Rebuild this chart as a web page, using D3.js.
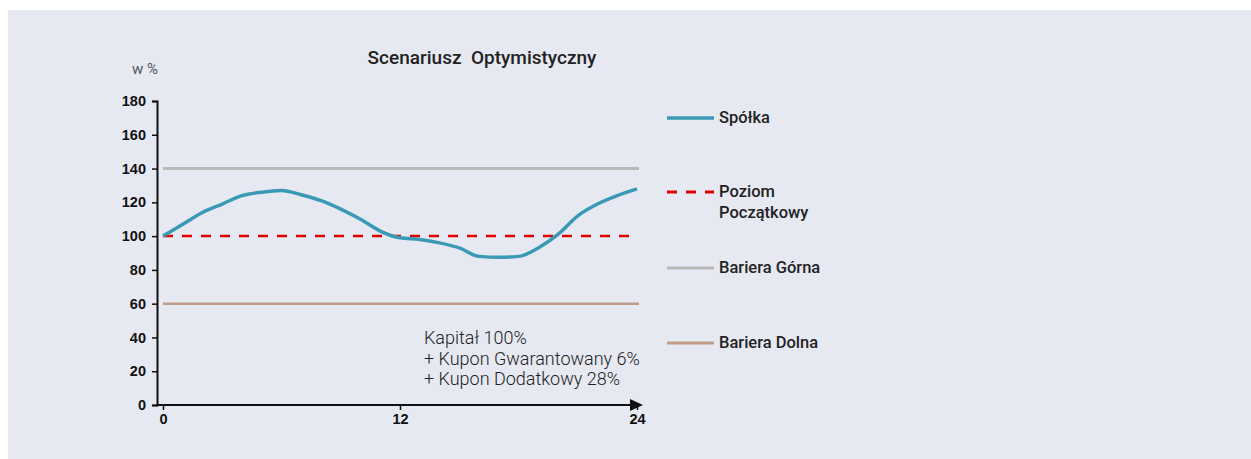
<!DOCTYPE html>
<html lang="pl">
<head>
  <meta charset="UTF-8">
  <title>Scenariusz Optymistyczny</title>
  <style>
    body { margin: 0; padding: 0; background: #fff; font-family: 'Roboto', 'Liberation Sans', sans-serif; }
    svg { display: block; }
    .tick text { font-family: 'Liberation Sans', Arial, sans-serif; font-weight: bold; font-size: 14.5px; fill: #111; }
    .legend text { font-family: 'Roboto', sans-serif; font-weight: 500; font-size: 16.5px; fill: #222; }
  </style>
</head>
<body>
  <svg width="1251" height="459"></svg>

  <script src="https://d3js.org/d3.v7.min.js"></script>
  <script>
    // data
    const months = d3.range(0, 25);
    const spolka = [100, 107, 114, 119, 124, 126, 127, 124.5, 121, 116, 110, 103, 99,
                    98, 96, 93, 88, 87.5, 88, 93, 101, 112, 119, 124, 128];
    const poziomPoczatkowy = 100;
    const barieraGorna = 140;
    const barieraDolna = 60;
    const yTicks = [0, 20, 40, 60, 80, 100, 120, 140, 160, 180];
    const xTicks = [0, 12, 24];
    const legendItems = [
      { label: ["Spółka"], color: "#3a9ab5", dash: null, width: 3.5 },
      { label: ["Poziom", "Początkowy"], color: "#e00000", dash: "10,9", width: 3 },
      { label: ["Bariera Górna"], color: "#b9b9b9", dash: null, width: 3 },
      { label: ["Bariera Dolna"], color: "#c29c86", dash: null, width: 3 }
    ];
    const note = ["Kapitał 100%", "+ Kupon Gwarantowany 6%", "+ Kupon Dodatkowy 28%"];

    const svg = d3.select("svg");

    svg.append("rect")
      .attr("x", 8).attr("y", 10)
      .attr("width", 1243).attr("height", 449)
      .attr("fill", "#e6e9f2");

    const x = d3.scaleLinear().domain([0, 24]).range([163, 637]);
    const y = d3.scaleLinear().domain([0, 180]).range([405, 101]);

    // title
    svg.append("text")
      .attr("x", 482).attr("y", 64)
      .attr("text-anchor", "middle")
      .style("font-family", "Roboto, sans-serif")
      .style("font-size", "19px")
      .style("font-weight", "500")
      .style("fill", "#222")
      .style("white-space", "pre")
      .text("Scenariusz  Optymistyczny");

    svg.append("text")
      .attr("x", 132).attr("y", 74)
      .style("font-family", "Roboto, sans-serif")
      .style("font-size", "15px")
      .style("fill", "#555")
      .text("w %");

    // y axis
    const yAxis = svg.append("g")
      .attr("transform", "translate(157,0)")
      .call(d3.axisLeft(y).tickValues(yTicks).tickSize(5).tickSizeOuter(5).tickPadding(6));
    yAxis.select(".domain").attr("stroke", "#111").attr("stroke-width", 2);
    yAxis.selectAll(".tick line").attr("stroke", "#111").attr("stroke-width", 1.5);

    // x axis
    const xAxis = svg.append("g")
      .attr("transform", "translate(0,405)")
      .call(d3.axisBottom(x).tickValues(xTicks).tickSize(5).tickSizeOuter(0).tickPadding(4));
    xAxis.select(".domain").remove();
    xAxis.selectAll(".tick line").attr("stroke", "#111").attr("stroke-width", 1.5);
    xAxis.append("line")
      .attr("x1", 156).attr("x2", 632)
      .attr("y1", 0).attr("y2", 0)
      .attr("stroke", "#111").attr("stroke-width", 2);
    xAxis.append("path")
      .attr("d", "M630,-6L643,0L630,6Z")
      .attr("fill", "#111");

    // horizontal levels
    const hline = (v, color, w, dash, x2) => svg.append("line")
      .attr("x1", x(0)).attr("x2", x2)
      .attr("y1", y(v)).attr("y2", y(v))
      .attr("stroke", color).attr("stroke-width", w)
      .attr("stroke-dasharray", dash);

    hline(barieraGorna, "#b9b9b9", 3, null, x(24) + 2);
    hline(barieraDolna, "#c29c86", 2.5, null, x(24) + 2);
    hline(poziomPoczatkowy, "#e00000", 2.5, "10,9", x(24) - 8);

    // Spółka line
    const line = d3.line()
      .x((d, i) => x(months[i]))
      .y(d => y(d))
      .curve(d3.curveMonotoneX);

    svg.append("path")
      .datum(spolka)
      .attr("fill", "none")
      .attr("stroke", "#3a9ab5")
      .attr("stroke-width", 3.5)
      .attr("stroke-linejoin", "round")
      .attr("d", line);

    // note
    svg.append("text")
      .attr("x", 424).attr("y", 344)
      .style("font-family", "Roboto, sans-serif")
      .style("font-size", "18px")
      .style("font-weight", "300")
      .style("fill", "#222")
      .selectAll("tspan")
      .data(note)
      .enter().append("tspan")
      .attr("x", 424)
      .attr("dy", (d, i) => i === 0 ? 0 : 20.5)
      .text(d => d);

    // legend
    const legendY = [118, 192, 268, 343];
    const legend = svg.append("g").attr("class", "legend");
    legendItems.forEach((item, i) => {
      const g = legend.append("g").attr("transform", `translate(667,${legendY[i]})`);
      g.append("line")
        .attr("x1", 0).attr("x2", 47)
        .attr("stroke", item.color)
        .attr("stroke-width", item.width)
        .attr("stroke-dasharray", item.dash);
      g.append("text")
        .attr("x", 52).attr("y", 5)
        .selectAll("tspan")
        .data(item.label)
        .enter().append("tspan")
        .attr("x", 52)
        .attr("dy", (d, j) => j === 0 ? 0 : 21)
        .text(d => d);
    });
  </script>
</body>
</html>
